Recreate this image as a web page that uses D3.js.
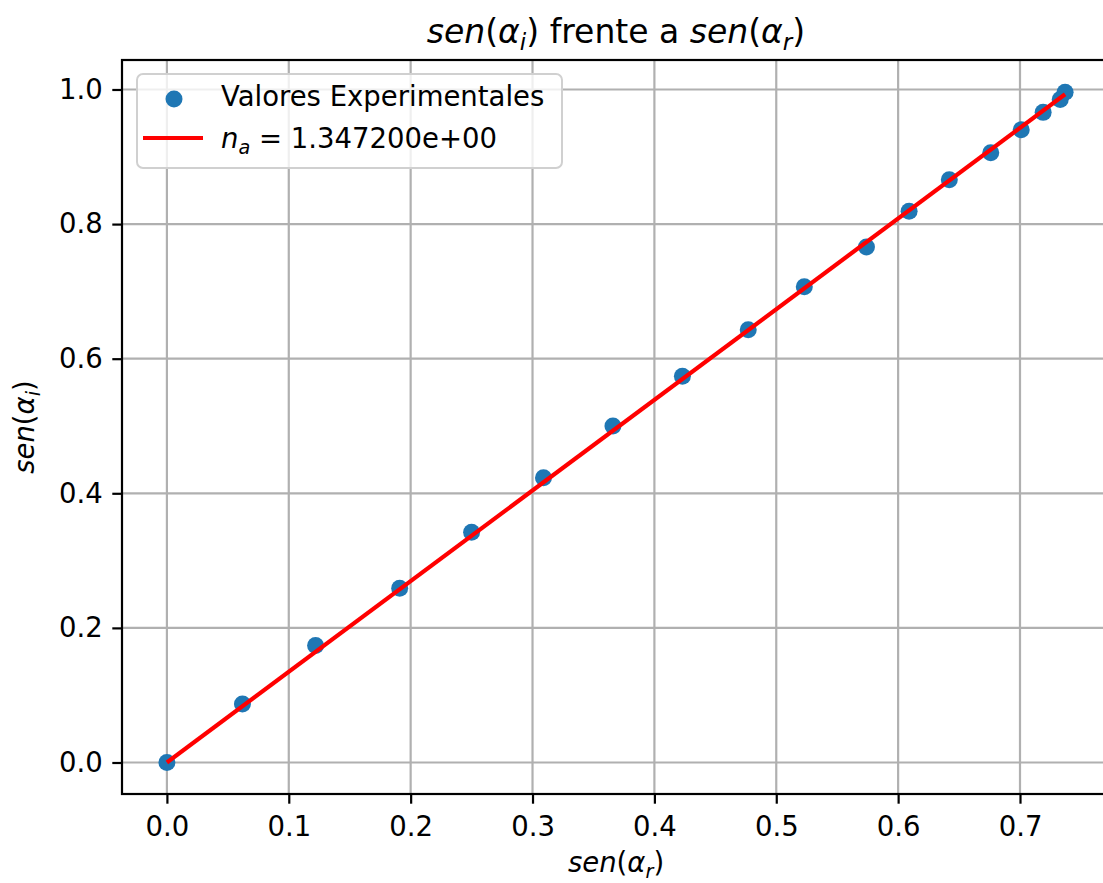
<!DOCTYPE html>
<html>
<head>
<meta charset="utf-8">
<script src="https://cdn.jsdelivr.net/npm/d3@7"></script>
<style>
  body { margin: 0; background: #fff; }
  svg { display: block; overflow: hidden; }
  text { font-family: "DejaVu Sans", sans-serif; fill: #000; }
</style>
</head>
<body>
<svg id="chart" width="1103" height="883"></svg>
<script>
// measured data: sen(alpha_r) vs sen(alpha_i)
const senR = [0, 0.062, 0.122, 0.191, 0.250, 0.309, 0.366, 0.423, 0.477, 0.523,
              0.574, 0.609, 0.642, 0.676, 0.701, 0.719, 0.733, 0.737];
const senI = [0, 0.087, 0.174, 0.259, 0.342, 0.423, 0.500, 0.574, 0.643, 0.707,
              0.766, 0.819, 0.866, 0.906, 0.940, 0.966, 0.985, 0.996];
const nA = 1.3472;  // fitted slope shown in legend
const xTicks = [0, 0.1, 0.2, 0.3, 0.4, 0.5, 0.6, 0.7];
const yTicks = [0, 0.2, 0.4, 0.6, 0.8, 1.0];

const svg = d3.select('#chart');
const margin = { top: 60, left: 122, bottom: 794, right: 1110 };
const fs = 27.5;

// matplotlib-like margins
const xMax = d3.max(senR), yMax = d3.max(senI);
const x = d3.scaleLinear()
  .domain([-0.05 * xMax, xMax * 1.05])
  .range([margin.left, margin.right]);
const y = d3.scaleLinear()
  .domain([-0.047 * yMax, yMax * 1.048])
  .range([margin.bottom, margin.top]);

// grid
svg.append('g')
  .selectAll('line.gx')
  .data(xTicks)
  .enter().append('line')
  .attr('x1', d => x(d)).attr('x2', d => x(d))
  .attr('y1', margin.top).attr('y2', margin.bottom)
  .attr('stroke', '#b0b0b0').attr('stroke-width', 2.2);
svg.append('g')
  .selectAll('line.gy')
  .data(yTicks)
  .enter().append('line')
  .attr('x1', margin.left).attr('x2', margin.right)
  .attr('y1', d => y(d)).attr('y2', d => y(d))
  .attr('stroke', '#b0b0b0').attr('stroke-width', 2.2);

// scatter points
svg.append('g')
  .selectAll('circle')
  .data(senR.map((d, i) => [d, senI[i]]))
  .enter().append('circle')
  .attr('cx', d => x(d[0]))
  .attr('cy', d => y(d[1]))
  .attr('r', 8.5)
  .attr('fill', '#1f77b4');

// fitted line
const fitX = [0, xMax];
svg.append('path')
  .datum(fitX)
  .attr('d', d3.line().x(d => x(d)).y(d => y(nA * d)))
  .attr('stroke', 'red').attr('stroke-width', 4.2).attr('fill', 'none');

// spines
svg.append('rect')
  .attr('x', margin.left).attr('y', margin.top)
  .attr('width', margin.right - margin.left)
  .attr('height', margin.bottom - margin.top)
  .attr('fill', 'none').attr('stroke', '#000').attr('stroke-width', 2.2);

// axes
const xAxis = svg.append('g')
  .attr('transform', `translate(0,${margin.bottom})`)
  .call(d3.axisBottom(x).tickValues(xTicks).tickFormat(d3.format('.1f'))
    .tickSizeInner(9.7).tickSizeOuter(0).tickPadding(13));
const yAxis = svg.append('g')
  .attr('transform', `translate(${margin.left},0)`)
  .call(d3.axisLeft(y).tickValues(yTicks).tickFormat(d3.format('.1f'))
    .tickSizeInner(9.7).tickSizeOuter(0).tickPadding(9.5));
[xAxis, yAxis].forEach(a => {
  a.select('.domain').remove();
  a.selectAll('.tick line').attr('stroke', '#000').attr('stroke-width', 2.2);
  a.selectAll('.tick text')
    .style('font-family', '"DejaVu Sans", sans-serif')
    .style('font-size', fs + 'px').attr('fill', '#000');
});

// mathtext-ish helper
function mathText(sel, parts, size) {
  parts.forEach(p => {
    const t = sel.append('tspan').text(p.t);
    if (p.it) t.attr('font-style', 'italic');
    if (p.sub) {
      t.attr('font-size', size * 0.7).attr('dy', size * 0.22);
    } else if (p.after) {
      t.attr('dy', -size * 0.22);
    }
  });
  return sel;
}
const senAlpha = sub => [
  { t: 'sen', it: true }, { t: '(' }, { t: 'α', it: true },
  { t: sub, it: true, sub: true }, { t: ')', after: true }
];

// title
mathText(svg.append('text')
  .attr('x', (margin.left + margin.right) / 2).attr('y', 43)
  .attr('text-anchor', 'middle').style('font-size', '33px'),
  [...senAlpha('i'), { t: ' frente a ' }, ...senAlpha('r')], 33);

// axis labels
mathText(svg.append('text')
  .attr('x', (margin.left + margin.right) / 2).attr('y', 872)
  .attr('text-anchor', 'middle').style('font-size', fs + 'px'),
  senAlpha('r'), fs);
mathText(svg.append('text')
  .attr('transform', `translate(34,${(margin.top + margin.bottom) / 2}) rotate(-90)`)
  .attr('text-anchor', 'middle').style('font-size', fs + 'px'),
  senAlpha('i'), fs);

// legend
const leg = svg.append('g');
leg.append('rect')
  .attr('x', 137).attr('y', 74).attr('width', 425).attr('height', 94)
  .attr('rx', 6).attr('fill', '#fff').attr('fill-opacity', 0.8)
  .attr('stroke', '#d0d0d0').attr('stroke-width', 2);
leg.append('circle').attr('cx', 174).attr('cy', 99).attr('r', 8.5).attr('fill', '#1f77b4');
leg.append('line').attr('x1', 143).attr('x2', 203).attr('y1', 138).attr('y2', 138)
  .attr('stroke', 'red').attr('stroke-width', 4.2);
leg.append('text').attr('x', 221).attr('y', 106).style('font-size', fs + 'px')
  .text('Valores Experimentales');
mathText(leg.append('text').attr('x', 221).attr('y', 148).style('font-size', fs + 'px'),
  [{ t: 'n', it: true }, { t: 'a', it: true, sub: true },
   { t: ' = ' + nA.toExponential(6).replace('e+0', 'e+00'), after: true }], fs);
</script>
</body>
</html>
